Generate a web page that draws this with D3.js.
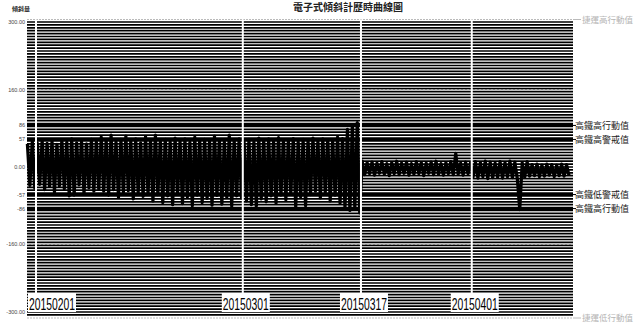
<!DOCTYPE html>
<html><head><meta charset="utf-8">
<script src="https://cdn.jsdelivr.net/npm/d3@7"></script>
<style>html,body{margin:0;padding:0;background:#fff;}svg{display:block;}</style>
</head><body>
<svg id="c" width="639" height="325"></svg>
<script>
// ---- data ----
const chartTitle = "電子式傾斜計歷時曲線圖";
const yAxisTitle = "傾斜量";
const yTickValues = [300, 160, 86, 57, 0, -57, -86, -160, -300];
const yTickLabels = ["300.00", "160.00", "86", "57", "0.00", "-57", "-86", "-160.00", "-300.00"];
const thresholdValues = [86, 57, -57, -86];
const thresholdLabels = ["高鐵高行動值", "高鐵高警戒值", "高鐵低警戒值", "高鐵高行動值"];
const metroLabels = ["捷運高行動值", "捷運低行動值"];
const metroValues = [300, -300];
const dateMarks = ["2015-02-01", "2015-03-01", "2015-03-17", "2015-04-01"];
const seriesStart = "2015-01-30T20:00";
const seriesStepHours = 8;
const tiltValues = [
 48,-38,53,-44,50,-36,55,-47,49,-40,
 54,-52,47,-39,56,-45,51,-60,58,-58,
 50,-37,53,-55,48,-43,57,-50,52,-46,
 62,-50,55,-58,66,-47,52,-63,57,-52,
 64,-49,54,-66,58,-53,50,-61,63,-55,
 56,-70,66,-57,53,-74,57,-60,52,-78,
 60,-56,54,-76,58,-62,51,-80,62,-58,
 55,-74,57,-65,53,-79,64,-59,56,-77,
 52,-63,66,-81,55,-60,58,-64,54,-70,
 57,-78,52,-82,60,-66,55,-72,58,-60,
 53,-75,61,-58,56,-68,54,-55,59,-83,
 52,-62,57,-80,55,-57,60,-50,53,-64,
 58,-52,56,-70,54,-58,62,-75,59,-84,
 78,-90,86,-86,92,-95,12,-16,9,-14,
 10,-17,8,-13,11,-15,7,-18,9,-14,
 12,-16,8,-13,10,-17,7,-15,11,-14,
 9,-18,8,-13,10,-16,12,-15,7,-17,
 9,-14,11,-16,28,-15,8,-17,10,-14,
 9,-21,11,-23,9,-20,12,-24,10,-22,
 8,-21,11,-23,9,-20,12,-22,10,-24,
 -88,9,-21,11,-19,5,-18,6,-20,4,
 -19,6,-17,5,-20,4,-18,6,-19,5,
 -18
];

// ---- layout ----
const svg = d3.select("#c");
const frame = {left: 27, right: 573, top: 19.5, bottom: 318};
const x = d3.scaleTime()
  .domain([new Date(2015,0,30,18,45), new Date(2015,3,14,17,0)])
  .range([frame.left, frame.right]);
const y = d3.scaleLinear().domain([-300, 300]).range([312, 22]);

const parse = d3.timeParse("%Y-%m-%dT%H:%M");
const parseDay = d3.timeParse("%Y-%m-%d");
const t0 = parse(seriesStart);
const series = tiltValues.map((v, i) => ({t: d3.timeHour.offset(t0, i * seriesStepHours), v}));

// stripes (dense grid)
const stripeVals = d3.range(-306, 305, 6);
svg.append("g").selectAll("line").data(stripeVals).join("line")
  .attr("x1", frame.left).attr("x2", frame.right)
  .attr("y1", d => y(d)).attr("y2", d => y(d))
  .attr("stroke", "#000").attr("stroke-width", 1.7);

// dashed gray lines
svg.append("g").selectAll("line").data([160, -160]).join("line")
  .attr("x1", frame.left).attr("x2", frame.right)
  .attr("y1", d => y(d)).attr("y2", d => y(d))
  .attr("stroke", "#aaa").attr("stroke-width", 1).attr("stroke-dasharray", "2,2");
svg.append("g").selectAll("line").data([frame.top, frame.bottom]).join("line")
  .attr("x1", frame.left).attr("x2", frame.right)
  .attr("y1", d => d).attr("y2", d => d)
  .attr("stroke", "#bbb").attr("stroke-width", 1.2).attr("stroke-dasharray", "2,1");

// thresholds
svg.append("g").selectAll("line").data(thresholdValues).join("line")
  .attr("x1", frame.left).attr("x2", frame.right)
  .attr("y1", d => y(d)).attr("y2", d => y(d))
  .attr("stroke", "#000").attr("stroke-width", 3);

// data line
svg.append("path").datum(series)
  .attr("fill", "none").attr("stroke", "#000").attr("stroke-width", 3.2)
  .attr("stroke-linejoin", "round")
  .attr("d", d3.line().x(d => x(d.t)).y(d => y(d.v)));

// date markers
const fmt = d3.timeFormat("%Y%m%d");
const marks = dateMarks.map(parseDay);
const boxTop = 293, boxH = 19, boxW = 48;
svg.append("g").selectAll("line").data(marks).join("line")
  .attr("x1", d => x(d)).attr("x2", d => x(d))
  .attr("y1", frame.top).attr("y2", boxTop)
  .attr("stroke", "#fff").attr("stroke-width", 2);
const mg = svg.append("g").selectAll("g").data(marks).join("g")
  .attr("transform", d => `translate(${Math.max(frame.left + 1, x(d) - 21)},${boxTop})`);
mg.append("rect").attr("width", boxW).attr("height", boxH).attr("fill", "#fff");
mg.append("text").attr("x", 1).attr("y", 17)
  .attr("font-family", "Liberation Sans, Arial, sans-serif").attr("font-size", 16)
  .attr("textLength", 46).attr("lengthAdjust", "spacingAndGlyphs")
  .attr("fill", "#000").text(d => fmt(d));

// y tick labels
svg.append("g").selectAll("text").data(yTickValues).join("text")
  .attr("x", 25).attr("y", d => y(d) + 2)
  .attr("text-anchor", "end").attr("font-family", "Liberation Sans Narrow, Liberation Sans, sans-serif")
  .attr("font-size", 5.5).attr("fill", "#444")
  .text((d, i) => yTickLabels[i]);

// axis title
svg.append("text").attr("x", 12).attr("y", 11)
  .attr("font-family", "Noto Sans CJK TC, sans-serif").attr("font-size", 6).attr("font-weight", "bold")
  .attr("fill", "#222").text(yAxisTitle);

// chart title
svg.append("text").attr("x", 348).attr("y", 10.5)
  .attr("text-anchor", "middle").attr("font-family", "Noto Sans CJK TC, sans-serif")
  .attr("font-size", 10).attr("font-weight", "bold").attr("fill", "#222").text(chartTitle);

// right threshold labels
const rg = svg.append("g").selectAll("g").data(thresholdValues).join("g")
  .attr("transform", d => `translate(${frame.right},${y(d)})`);
rg.append("line").attr("x1", 0).attr("x2", 3).attr("stroke", "#000").attr("stroke-width", 1);
rg.append("text").attr("x", 2).attr("y", 3.5)
  .attr("font-family", "Noto Sans CJK TC, sans-serif").attr("font-size", 9)
  .attr("fill", "#222").text((d, i) => thresholdLabels[i]);

// metro labels
const mlg = svg.append("g").selectAll("g").data(metroValues).join("g")
  .attr("transform", (d, i) => `translate(${frame.right},${i === 0 ? frame.top : frame.bottom})`);
mlg.append("line").attr("x1", 0).attr("x2", 8).attr("stroke", "#bbb").attr("stroke-width", 1);
mlg.append("text").attr("x", 9).attr("y", 3)
  .attr("font-family", "Noto Sans CJK TC, sans-serif").attr("font-size", 8.5)
  .attr("fill", "#b5b5b5").text((d, i) => metroLabels[i]);
</script>
</body></html>
